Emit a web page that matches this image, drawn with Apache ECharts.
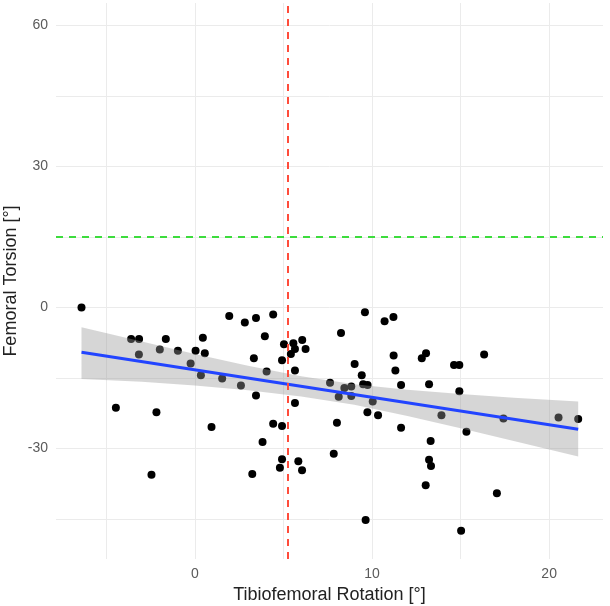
<!DOCTYPE html>
<html>
<head>
<meta charset="utf-8">
<script src="https://cdn.jsdelivr.net/npm/echarts@6/dist/echarts.min.js"></script>
<style>
  html, body { margin: 0; padding: 0; background: #fff; }
  #chart { width: 610px; height: 606px; }
</style>
</head>
<body>
<div id="chart"></div>
<script>
// scatter points
var tibRot = [-6.4, -3.6, -3.15, -1.64, -3.16, -1.98, -0.96, 0.04, 0.45, 0.56, -0.24, 0.34, 1.54, 2.6, 1.94,
  -4.46, -2.17, 0.94, -2.45, 2.82, 3.45, 4.42, 3.95, 5.03, 5.56, 6.06, 5.65, 6.25, 5.42, 4.92,
  3.33, 4.05, 5.65, 3.45, 5.65, 4.42, 4.92, 3.82, 4.92, 4.8, 5.84, 6.05, 3.24, 7.84, 8.02,
  8.25, 9.6, 10.71, 11.21, 9.02, 9.42, 9.5, 9.75, 7.63, 8.44, 8.83, 8.12, 8.83, 10.04, 9.74,
  10.34, 11.22, 11.32, 11.64, 11.64, 12.81, 13.05, 13.22, 13.92, 13.31, 13.22, 13.33, 13.03, 14.63, 14.93,
  14.93, 15.33, 16.33, 17.42, 20.53, 21.64, 17.05, 9.64, 15.03];
var femTor = [0, -6.7, -6.7, -6.7, -10.0, -8.9, -9.2, -9.2, -6.4, -9.7, -11.9, -14.4, -15.1, -16.6, -1.8,
  -21.3, -22.3, -25.4, -35.6, -3.2, -2.2, -1.5, -6.1, -7.8, -7.6, -6.9, -8.8, -8.8, -9.9, -11.2,
  -10.8, -13.6, -13.4, -18.7, -20.3, -24.7, -25.2, -28.6, -32.3, -34.1, -32.7, -34.6, -35.4, -31.1, -24.5,
  -5.4, -1.0, -2.9, -2.0, -12.0, -14.4, -16.3, -16.5, -16.0, -17.1, -16.8, -19.0, -18.8, -20.0, -22.3,
  -22.9, -10.2, -13.4, -16.5, -25.6, -10.8, -9.7, -16.3, -22.9, -28.4, -32.4, -33.7, -37.8, -12.2, -12.2,
  -17.8, -26.4, -10.0, -23.6, -23.4, -23.7, -39.5, -45.2, -47.5];

// fitted line and its confidence band
var fitX = [-6.4, 21.64];
var fitY = [-9.5, -25.9];
var bandX = [-6.4, -3, 0, 3, 6, 9, 12, 15, 18, 21.64];
var bandUpper = [-4.2, -7.2, -9.9, -12.4, -14.6, -16.3, -17.5, -18.4, -19.2, -20.0];
var bandLower = [-15.2, -15.8, -16.6, -17.6, -18.9, -20.7, -23.1, -25.7, -28.4, -31.7];

// reference lines
var refX = 5.25;
var refY = 15;

// axis ticks
var xLabels = [0, 10, 20];
var xGrid = [-5, 0, 5, 10, 15, 20];
var yLabels = [-30, 0, 30, 60];
var yGrid = [-45, -30, -15, 0, 15, 30, 45, 60];

var chart = echarts.init(document.getElementById('chart'));

var font = '"Liberation Sans", Arial, sans-serif';

// whole band drawn as one polygon, upper edge then lower edge backwards
function renderBand(params, api) {
  if (params.dataIndex !== 0) return null;
  var pts = [];
  for (var i = 0; i < bandX.length; i++) pts.push(api.coord([bandX[i], bandUpper[i]]));
  for (var j = bandX.length - 1; j >= 0; j--) pts.push(api.coord([bandX[j], bandLower[j]]));
  return {
    type: 'polygon',
    shape: { points: pts },
    style: { fill: 'rgba(153,153,153,0.4)' }
  };
}

var option = {
  animation: false,
  backgroundColor: '#ffffff',
  grid: { left: 56, right: 7, top: 3, bottom: 47, outerBoundsMode: 'none', containLabel: false },
  xAxis: {
    type: 'value',
    min: -7.84,
    max: 23.04,
    name: 'Tibiofemoral Rotation [°]',
    nameLocation: 'middle',
    nameGap: 27,
    nameMoveOverlap: false,
    nameTextStyle: { fontFamily: font, fontSize: 18, color: '#222' },
    axisLine: { show: false },
    axisTick: { show: false, customValues: xGrid },
    axisLabel: { customValues: xLabels, fontFamily: font, fontSize: 14, color: '#5a5a5a', margin: 8 },
    splitLine: { show: true, lineStyle: { color: '#ebebeb', width: 1 } }
  },
  yAxis: {
    type: 'value',
    min: -53.5,
    max: 64.8,
    name: 'Femoral Torsion [°]',
    nameLocation: 'middle',
    nameGap: 36,
    nameMoveOverlap: false,
    nameTextStyle: { fontFamily: font, fontSize: 18, color: '#222' },
    axisLine: { show: false },
    axisTick: { show: false, customValues: yGrid },
    axisLabel: { customValues: yLabels, fontFamily: font, fontSize: 14, color: '#5a5a5a', margin: 8 },
    splitLine: { show: true, lineStyle: { color: '#ebebeb', width: 1 } }
  },
  series: [
    {
      type: 'scatter',
      data: tibRot.map(function (x, i) { return [x, femTor[i]]; }),
      symbolSize: 8,
      itemStyle: { color: '#000', opacity: 1 },
      z: 2
    },
    {
      type: 'custom',
      renderItem: renderBand,
      data: bandX.map(function (x, i) { return [x, bandUpper[i], bandLower[i]]; }),
      encode: { x: 0, y: [1, 2] },
      silent: true,
      z: 3
    },
    {
      type: 'line',
      data: fitX.map(function (x, i) { return [x, fitY[i]]; }),
      symbol: 'none',
      lineStyle: { color: '#2244ff', width: 3 },
      z: 4,
      markLine: {
        silent: true,
        symbol: 'none',
        label: { show: false },
        data: [
          { xAxis: refX, lineStyle: { color: '#ff4c3b', width: 2, type: [7, 6] } },
          { yAxis: refY, lineStyle: { color: '#3ddc3d', width: 2, type: [7, 6] } }
        ]
      }
    }
  ]
};

chart.setOption(option);
</script>
</body>
</html>
